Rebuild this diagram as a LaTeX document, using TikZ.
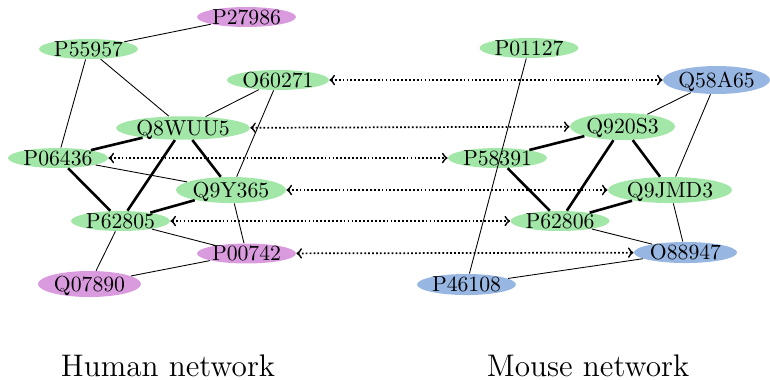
\documentclass[tikz,border=0pt]{standalone}
\usetikzlibrary{shapes.geometric}
\definecolor{protgreen}{RGB}{162,230,168}
\definecolor{protpurple}{RGB}{217,155,222}
\definecolor{protblue}{RGB}{151,182,226}
% centred label with zero-size box, so the ellipse size is set by the style alone
\newcommand{\pid}[1]{\makebox[0pt]{\raisebox{-3.3pt}[0pt][0pt]{#1}}}
\tikzset{
  prot/.style={ellipse, draw=none, inner sep=0pt, minimum width=45.6pt, minimum height=9.2pt},
  gn/.style={prot, fill=protgreen},
  pn/.style={prot, fill=protpurple},
  bn/.style={prot, fill=protblue},
  weak/.style={line width=0.4pt},
  strong/.style={line width=1.2pt},
  ortho/.style={<->, densely dotted, line width=0.8pt},
  netlabel/.style={font=\Large, inner sep=0pt}
}
\begin{document}
\begin{tikzpicture}[x=0.461pt, y=-0.461pt]
\useasboundingbox (0,0) rectangle (770,379);

% human network
\node[pn] (P27986) at (246.5,17) {\pid{P27986}};
\node[gn, minimum width=45.6pt] (P55957) at (88.5,49) {\pid{P55957}};
\node[gn, minimum width=47pt] (O60271) at (278,80) {\pid{O60271}};
\node[gn, minimum width=61.6pt, minimum height=10.8pt] (Q8WUU5) at (183,128) {\pid{Q8WUU5}};
\node[gn, minimum width=46.1pt] (P06436) at (58,158) {\pid{P06436}};
\node[gn, minimum width=50.7pt, minimum height=12pt] (Q9Y365) at (231,190) {\pid{Q9Y365}};
\node[gn] (P62805) at (120.5,221) {\pid{P62805}};
\node[pn] (P00742) at (246.5,253.5) {\pid{P00742}};
\node[pn, minimum width=47.5pt, minimum height=12pt] (Q07890) at (89.5,284) {\pid{Q07890}};

% mouse network
\node[gn] (P01127) at (529,48) {\pid{P01127}};
\node[bn, minimum width=49.3pt, minimum height=12.9pt] (Q58A65) at (716.5,80) {\pid{Q58A65}};
\node[gn, minimum width=48.4pt, minimum height=12.4pt] (Q920S3) at (622.5,126.5) {\pid{Q920S3}};
\node[gn] (P58391) at (497.5,158) {\pid{P58391}};
\node[gn, minimum width=57.2pt, minimum height=12pt] (Q9JMD3) at (670,190) {\pid{Q9JMD3}};
\node[gn] (P62806) at (560,221) {\pid{P62806}};
\node[bn, minimum width=47.5pt, minimum height=9.7pt] (O88947) at (685.5,252.5) {\pid{O88947}};
\node[bn, minimum height=9.7pt] (P46108) at (466.5,284.5) {\pid{P46108}};

% human interactions
\draw[weak] (P27986) -- (P55957);
\draw[weak] (P55957) -- (Q8WUU5);
\draw[weak] (P55957) -- (P06436);
\draw[weak] (O60271) -- (Q8WUU5);
\draw[weak] (O60271) -- (Q9Y365);
\draw[weak] (Q9Y365) -- (P00742);
\draw[weak] (P06436) -- (Q9Y365);
\draw[weak] (P62805) -- (P00742);
\draw[weak] (P62805) -- (Q07890);
\draw[weak] (Q07890) -- (P00742);
\draw[strong] (P06436) -- (Q8WUU5);
\draw[strong] (Q8WUU5) -- (P62805);
\draw[strong] (Q8WUU5) -- (Q9Y365);
\draw[strong] (P06436) -- (P62805);
\draw[strong] (P62805) -- (Q9Y365);

% mouse interactions
\draw[weak] (P01127) -- (P46108);
\draw[weak] (Q58A65) -- (Q920S3);
\draw[weak] (Q58A65) -- (Q9JMD3);
\draw[weak] (Q9JMD3) -- (O88947);
\draw[weak] (P62806) -- (O88947);
\draw[weak] (P46108) -- (O88947);
\draw[strong] (P58391) -- (Q920S3);
\draw[strong] (P58391) -- (P62806);
\draw[strong] (Q920S3) -- (P62806);
\draw[strong] (Q920S3) -- (Q9JMD3);
\draw[strong] (P62806) -- (Q9JMD3);

% orthologue links
\draw[ortho] (O60271) -- (Q58A65);
\draw[ortho] (Q8WUU5) -- (Q920S3);
\draw[ortho] (P06436) -- (P58391);
\draw[ortho] (Q9Y365) -- (Q9JMD3);
\draw[ortho] (P62805) -- (P62806);
\draw[ortho] (P00742) -- (O88947);

% captions
\node[netlabel] (humancap) at (168,366) {Human network};
\node[netlabel] (mousecap) at (588,366) {Mouse network};
\end{tikzpicture}
\end{document}
